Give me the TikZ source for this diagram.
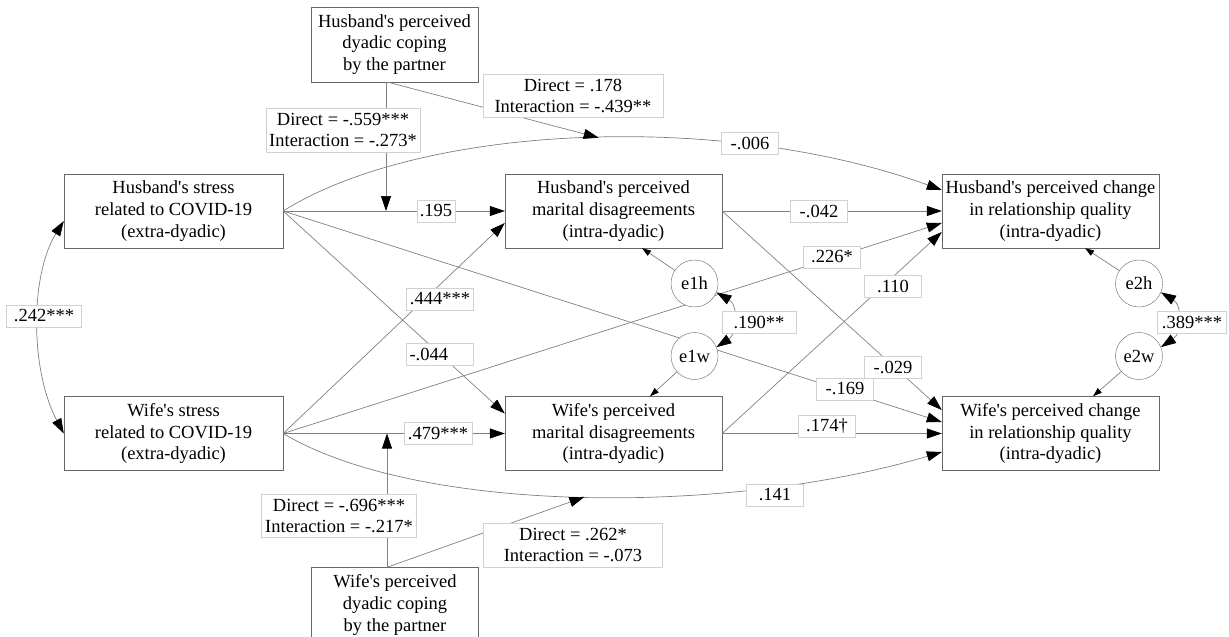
\documentclass[tikz,border=0pt]{standalone}
\usepackage{fontspec}
\setmainfont{Liberation Serif}
\usepackage{tikz}
\usetikzlibrary{arrows.meta}
\tikzset{>={Triangle[width=10pt,length=15pt,color=black]}}
\newcommand{\ap}{\textquotesingle}

\begin{document}
\begin{tikzpicture}[x=1pt, y=-1pt, font=\fontsize{18.5}{21.7}\selectfont,
  main/.style = {draw=black!60, fill=white, align=center, inner sep=0pt, minimum width=217pt, minimum height=74pt},
  err/.style = {draw=black!60, fill=white, circle, inner sep=0pt, minimum size=47pt},
  lbl/.style = {draw=black!18, fill=white, inner xsep=3pt, inner ysep=0pt, minimum height=22pt, minimum width=57pt},
  link/.style = {draw=black!50, line width=0.7pt, ->},
  earr/.style = {-{Triangle[width=6pt,length=9pt,color=black]}}]
\useasboundingbox (0,0) rectangle (1229,637);

\node[main, minimum width=167pt, minimum height=75pt] (hdc) at (394.5,44.5) {Husband\ap s perceived\\dyadic coping\\by the partner};
\node[main, minimum width=219pt] (hs) at (173.5,211) {Husband\ap s stress\\related to COVID-19\\(extra-dyadic)};
\node[main, minimum width=219pt] (ws) at (173.5,433.5) {Wife\ap s stress\\related to COVID-19\\(extra-dyadic)};
\node[main] (hmd) at (613.5,211) {Husband\ap s perceived\\marital disagreements\\(intra-dyadic)};
\node[main] (wmd) at (613.5,433.5) {Wife\ap s perceived\\marital disagreements\\(intra-dyadic)};
\node[main] (hrq) at (1050.5,211) {Husband\ap s perceived change\\in relationship quality\\(intra-dyadic)};
\node[main] (wrq) at (1050.5,433.5) {Wife\ap s perceived change\\in relationship quality\\(intra-dyadic)};
\node[main, minimum width=167pt, minimum height=75pt] (wdc) at (395,605) {Wife\ap s perceived\\dyadic coping\\by the partner};

\draw[link] (hs.east) -- ([yshift=11.5pt]wrq.west);
\draw[link] (ws.east) -- ([yshift=-12pt]hrq.west);

\node[err] (e1h) at (694.5,283.5) {e1h};
\node[err] (e1w) at (694.5,356) {e1w};
\node[err] (e2h) at (1139,283.5) {e2h};
\node[err] (e2w) at (1139,356) {e2w};

\draw[link] (hs.east) -- (hmd.west);
\draw[link] (hs.east) -- ([yshift=20pt]wmd.west);
\draw[link] (ws.east) -- (wmd.west);
\draw[link] (ws.east) -- ([yshift=-12pt]hmd.west);
\draw[link] (hmd.east) -- (hrq.west);
\draw[link] (hmd.east) -- ([yshift=23.5pt]wrq.west);
\draw[link] (wmd.east) -- ([yshift=-21pt]hrq.west);
\draw[link] (wmd.east) -- (wrq.west);
\draw[link] (hs.east) .. controls (420,125) and (720,110) .. ([yshift=21pt]hrq.west) coordinate[pos=0.525] (ch);
\draw[link] (ws.east) .. controls (420,515) and (730,515) .. ([yshift=-18.5pt]wrq.west) coordinate[pos=0.5] (cw);

\coordinate (dh) at (386,211);
\coordinate (dw) at (387,433.5);
\draw[link] ([xshift=-8.5pt]hdc.south) -- (dh);
\draw[link] ([xshift=-6.5pt]hdc.south) -- (ch);
\draw[link] ([xshift=-8pt]wdc.north) -- (dw);
\draw[link] ([xshift=-8pt]wdc.north) -- (cw);

\draw[link, earr] (e1h) -- ([xshift=28.5pt]hmd.south);
\draw[link, earr] (e1w) -- ([xshift=36.5pt]wmd.north);
\draw[link, earr] (e2h) -- ([xshift=34.5pt]hrq.south);
\draw[link, earr] (e2w) -- ([xshift=42.5pt]wrq.north);
\draw[link, <->] (e1h.-22) .. controls (738,305) and (738,333) .. (e1w.22);
\draw[link, <->] (e2h.-22) .. controls (1182,305) and (1182,333) .. (e2w.22);
\draw[link, <->] ([yshift=-10pt]hs.west) .. controls (30,275) and (30,370) .. (ws.west);

\node[lbl, minimum width=0pt] (b195) at (436,211) {.195};
\node[lbl, minimum width=67pt] (b444) at (440,299) {.444***};
\node[lbl, text width=61pt, align=left] (b044) at (440,354) {-.044};
\node[lbl, minimum width=68pt] (b479) at (438,433.5) {.479***};
\node[lbl] (b006) at (750,143) {-.006};
\node[lbl] (b042) at (819,211) {-.042};
\node[lbl] (b226) at (832,257) {.226*};
\node[lbl] (b110) at (893,286) {.110};
\node[lbl, minimum width=74pt] (b190) at (759,322) {.190**};
\node[lbl] (b029) at (893,367) {-.029};
\node[lbl] (b169) at (845,389) {-.169};
\node[lbl] (b174) at (827,426) {.174†};
\node[lbl] (b141) at (775,495) {.141};
\node[lbl, minimum width=69pt] (b389) at (1192,322) {.389***};
\node[lbl, minimum width=75pt] (b242) at (44,316) {.242***};
\node[lbl, align=center, minimum width=150pt, minimum height=44pt] (bhd) at (343,130) {Direct = -.559***\\Interaction = -.273*};
\node[lbl, align=center, minimum width=180pt, minimum height=43pt] (bhc) at (573,96) {Direct = .178\\Interaction = -.439**};
\node[lbl, align=center, minimum width=155pt, minimum height=43pt] (bwd) at (339,516) {Direct = -.696***\\Interaction = -.217*};
\node[lbl, align=center, minimum width=179pt, minimum height=44pt] (bwc) at (573,545) {Direct = .262*\\Interaction = -.073};
\end{tikzpicture}
\end{document}
